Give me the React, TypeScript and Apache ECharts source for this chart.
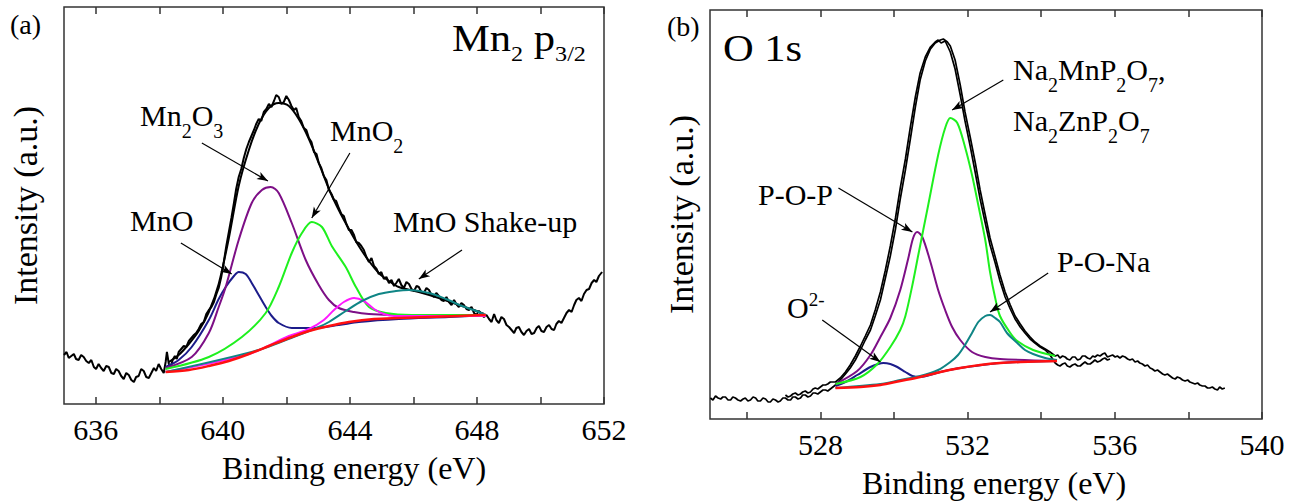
import React, { useEffect, useRef } from "react";
import * as echarts from "echarts";

// ---------- Panel (a): Mn 2p3/2 ----------
const mnTicks = [636, 638, 640, 642, 644, 646, 648, 650, 652];
const mnLabels = [636, 640, 644, 648, 652];

const mnRaw = [
  [635.0, 49], [635.08, 52], [635.15, 46], [635.23, 48], [635.31, 50], [635.38, 45], [635.46, 44], [635.54, 49],
  [635.62, 47], [635.7, 43], [635.78, 41], [635.86, 44], [635.94, 37], [636.01, 35], [636.09, 40], [636.17, 36],
  [636.25, 33], [636.33, 38], [636.41, 37], [636.49, 31], [636.57, 30], [636.64, 35], [636.72, 33], [636.8, 28],
  [636.88, 25], [636.96, 31], [637.04, 29], [637.12, 24], [637.2, 22], [637.27, 27], [637.35, 28], [637.43, 35],
  [637.51, 33], [637.59, 27], [637.67, 26], [637.75, 31], [637.83, 36], [637.9, 33], [637.98, 40], [638.06, 35],
  [638.14, 31], [638.2, 42], [638.24, 52], [638.3, 40], [638.36, 37], [638.42, 44], [638.49, 48], [638.55, 45],
  [638.61, 52], [638.69, 55], [638.77, 58], [638.85, 57], [638.93, 63], [639.01, 66], [639.09, 69], [639.16, 71],
  [639.24, 75], [639.32, 80], [639.4, 82], [639.48, 90], [639.56, 94], [639.64, 97], [639.72, 102], [639.8, 110],
  [639.87, 116], [639.95, 127], [640.03, 142], [640.11, 158], [640.19, 172], [640.27, 186], [640.35, 201], [640.42, 215],
  [640.5, 227], [640.58, 235], [640.66, 246], [640.74, 255], [640.82, 262], [640.9, 268], [640.98, 274], [641.05, 280],
  [641.13, 285], [641.21, 283], [641.29, 292], [641.37, 295], [641.45, 300], [641.53, 297], [641.61, 303], [641.68, 309],
  [641.76, 307], [641.84, 300], [641.92, 302], [642.0, 308], [642.08, 304], [642.16, 298], [642.24, 294], [642.31, 296],
  [642.39, 287], [642.47, 283], [642.55, 276], [642.63, 274], [642.71, 266], [642.79, 262], [642.87, 252], [642.95, 250],
  [643.02, 241], [643.1, 236], [643.18, 228], [643.26, 224], [643.34, 214], [643.42, 210], [643.5, 204], [643.57, 203],
  [643.65, 196], [643.73, 190], [643.81, 188], [643.89, 180], [643.97, 174], [644.05, 174], [644.13, 169], [644.2, 162],
  [644.28, 161], [644.36, 158], [644.44, 154], [644.52, 147], [644.6, 142], [644.68, 146], [644.76, 138], [644.84, 135],
  [644.91, 130], [644.99, 132], [645.07, 125], [645.15, 127], [645.23, 121], [645.31, 124], [645.39, 118], [645.46, 121],
  [645.54, 125], [645.62, 119], [645.7, 116], [645.78, 122], [645.86, 120], [645.94, 115], [646.02, 113], [646.1, 118],
  [646.17, 117], [646.25, 112], [646.33, 111], [646.41, 116], [646.49, 114], [646.57, 109], [646.65, 107], [646.72, 111],
  [646.8, 108], [646.88, 104], [646.96, 103], [647.04, 107], [647.12, 102], [647.2, 99], [647.28, 104], [647.35, 100],
  [647.43, 97], [647.51, 101], [647.59, 99], [647.67, 95], [647.75, 94], [647.83, 97], [647.91, 91], [647.98, 89],
  [648.06, 93], [648.14, 90], [648.22, 87], [648.3, 89], [648.38, 85], [648.46, 82], [648.54, 90], [648.61, 84],
  [648.69, 81], [648.77, 87], [648.85, 85], [648.93, 79], [649.01, 77], [649.09, 74], [649.17, 71], [649.24, 76],
  [649.32, 77], [649.4, 72], [649.48, 69], [649.56, 73], [649.64, 75], [649.72, 70], [649.8, 71], [649.88, 76],
  [649.95, 78], [650.03, 73], [650.11, 72], [650.19, 77], [650.27, 79], [650.35, 75], [650.43, 74], [650.5, 80],
  [650.58, 83], [650.66, 81], [650.74, 86], [650.82, 91], [650.9, 94], [650.98, 92], [651.06, 99], [651.13, 104],
  [651.21, 106], [651.29, 103], [651.37, 110], [651.45, 114], [651.53, 115], [651.61, 121], [651.69, 124], [651.76, 122],
  [651.84, 128], [651.94, 132],
];
const mnFit = [
  [638.3, 42], [638.61, 49], [638.93, 60], [639.24, 73], [639.56, 92], [639.87, 120], [640.19, 166], [640.5, 218],
  [640.82, 254], [641.13, 280], [641.45, 296], [641.76, 301], [642.08, 298], [642.39, 285], [642.71, 265], [643.02, 241],
  [643.34, 215], [643.65, 194], [643.97, 175], [644.28, 158], [644.6, 143], [644.91, 131], [645.23, 123], [645.54, 117],
  [646.17, 112], [646.8, 106], [647.43, 99], [647.91, 94], [648.22, 90],
];
const mnMnO = [
  [638.2, 37], [638.61, 44], [639.02, 57], [639.56, 84], [639.87, 105], [640.09, 117], [640.35, 128], [640.5, 132],
  [640.72, 130], [640.91, 121], [641.13, 109], [641.35, 97], [641.54, 88], [641.76, 81], [642.17, 76], [642.8, 76],
  [643.65, 79], [644.28, 82], [645.54, 85], [647.12, 87], [648.28, 89],
];
const mnMn2O3 = [
  [638.2, 36], [639.02, 47], [639.56, 71], [639.87, 97], [640.09, 117], [640.5, 164], [640.91, 201], [641.23, 214],
  [641.51, 217], [641.76, 211], [642.17, 181], [642.61, 144], [643.02, 119], [643.34, 104], [643.65, 96], [644.13, 92],
  [644.6, 90], [645.54, 89], [648.28, 89],
];
const mnMnO2 = [
  [638.2, 35], [639.56, 47], [640.6, 67], [641.35, 91], [641.76, 117], [642.17, 151], [642.49, 171], [642.8, 182],
  [643.12, 177], [643.43, 158], [643.87, 137], [644.19, 117], [644.6, 97], [645.13, 91], [645.95, 89], [648.28, 89],
];
const mnSat = [
  [638.2, 32], [640.82, 50], [642.08, 68], [642.71, 75], [643.18, 84], [643.5, 94], [643.81, 102], [644.13, 106],
  [644.44, 103], [644.76, 95], [645.07, 90], [645.39, 88], [648.28, 88],
];
const mnShake = [
  [638.2, 32], [641.13, 54], [642.39, 69], [643.02, 77], [643.34, 82], [643.87, 93], [644.38, 103], [644.91, 110],
  [645.45, 113], [645.86, 114], [646.49, 111], [647.02, 105], [647.53, 98], [648.06, 92], [648.28, 89],
];
const mnBg = [
  [638.2, 32], [638.93, 34], [639.56, 38], [640.19, 43], [640.82, 50], [641.45, 58], [642.08, 66], [642.71, 73],
  [643.34, 78], [643.97, 82], [644.76, 85], [645.54, 86], [646.49, 87], [647.43, 88], [648.28, 89],
];
const mnArrows = [
  [[639.34, 261], [641.42, 223]],
  [[638.68, 161], [640.28, 130]],
  [[644.0, 251], [642.8, 186]],
  [[647.53, 154], [646.17, 125]],
];

// ---------- Panel (b): O 1s ----------
const oTicks = [526, 528, 530, 532, 534, 536, 538, 540];
const oLabels = [528, 532, 536, 540];

const oRawA = [
  [525.01, 21], [525.08, 19], [525.15, 23], [525.22, 21], [525.29, 20], [525.35, 22], [525.42, 22], [525.49, 19],
  [525.56, 19], [525.62, 22], [525.69, 21], [525.76, 19], [525.83, 18], [525.9, 20], [525.96, 21], [526.03, 18],
  [526.1, 19], [526.17, 22], [526.24, 21], [526.3, 18], [526.37, 18], [526.44, 21], [526.51, 20], [526.58, 17],
  [526.64, 17], [526.71, 20], [526.78, 19], [526.85, 17], [526.91, 18], [526.98, 21], [527.05, 21], [527.12, 19],
  [527.19, 19], [527.25, 22], [527.32, 22], [527.39, 20], [527.46, 21], [527.52, 24], [527.59, 24], [527.66, 22],
  [527.73, 23], [527.8, 26], [527.86, 26], [527.93, 25], [528.0, 27], [528.07, 29], [528.14, 29], [528.2, 28],
  [528.27, 30], [528.41, 34], [528.54, 39], [528.68, 45], [528.81, 51], [528.95, 59], [529.09, 69], [529.22, 79],
  [529.36, 89], [529.49, 103], [529.63, 119], [529.76, 140], [529.9, 163], [530.04, 190], [530.17, 220], [530.31, 249],
  [530.44, 279], [530.58, 312], [530.71, 339], [530.85, 358], [530.99, 370], [531.12, 376], [531.26, 379], [531.34, 380],
  [531.45, 377], [531.53, 373], [531.66, 359], [531.8, 334], [531.93, 307], [532.07, 282], [532.21, 256], [532.34, 229],
  [532.48, 204], [532.61, 181], [532.75, 162], [532.88, 144], [533.02, 127], [533.16, 114], [533.29, 103], [533.43, 95],
  [533.56, 88], [533.7, 82], [533.83, 77], [533.97, 73], [534.11, 70], [534.24, 67], [534.38, 63], [534.45, 64],
  [534.51, 61], [534.58, 63], [534.65, 62], [534.71, 60], [534.78, 59], [534.85, 62], [534.92, 62], [534.99, 59],
  [535.06, 60], [535.12, 63], [535.19, 63], [535.26, 61], [535.33, 60], [535.4, 63], [535.46, 62], [535.53, 64],
  [535.6, 63], [535.67, 65], [535.73, 66], [535.8, 62], [535.87, 63], [535.94, 64], [536.01, 62], [536.07, 63],
  [536.14, 61], [536.21, 63], [536.28, 62], [536.35, 60], [536.41, 59], [536.48, 60], [536.55, 57], [536.62, 58],
  [536.68, 56], [536.75, 55], [536.82, 53], [536.89, 54], [536.96, 51], [537.02, 50], [537.09, 48], [537.16, 49],
  [537.23, 47], [537.3, 45], [537.36, 44], [537.43, 45], [537.5, 43], [537.57, 41], [537.64, 40], [537.7, 42],
  [537.77, 41], [537.84, 39], [537.91, 38], [537.98, 39], [538.04, 37], [538.11, 36], [538.18, 35], [538.25, 36],
  [538.31, 34], [538.38, 33], [538.45, 33], [538.52, 31], [538.58, 31], [538.65, 32], [538.72, 30], [538.79, 29],
  [538.85, 32], [538.92, 30], [538.99, 31],
];
const oRawB = [
  [527.05, 24], [527.12, 22], [527.19, 23], [527.25, 25], [527.32, 26], [527.39, 24], [527.46, 25], [527.52, 27],
  [527.59, 28], [527.66, 26], [527.73, 27], [527.8, 30], [527.86, 31], [527.93, 30], [528.0, 32], [528.07, 34],
  [528.14, 34], [528.2, 35], [528.27, 37], [528.41, 37], [528.54, 41], [528.68, 47], [528.81, 54], [528.95, 63],
  [529.09, 73], [529.22, 83], [529.36, 94], [529.49, 109], [529.63, 127], [529.76, 148], [529.9, 173], [530.04, 201],
  [530.17, 231], [530.31, 260], [530.44, 291], [530.58, 322], [530.71, 346], [530.85, 362], [530.99, 372], [531.12, 377],
  [531.2, 379], [531.28, 376], [531.39, 378], [531.53, 367], [531.66, 350], [531.8, 324], [531.93, 298], [532.07, 273],
  [532.21, 246], [532.34, 220], [532.48, 196], [532.61, 174], [532.75, 156], [532.88, 138], [533.02, 122], [533.16, 110],
  [533.29, 100], [533.43, 92], [533.56, 86], [533.7, 80], [533.83, 76], [533.97, 72], [534.11, 69], [534.24, 64],
  [534.38, 56], [534.45, 54], [534.51, 53], [534.58, 55], [534.65, 56], [534.71, 53], [534.78, 52], [534.85, 54],
  [534.92, 55], [534.99, 53], [535.06, 53], [535.12, 55], [535.19, 57], [535.26, 55], [535.33, 55], [535.4, 57],
  [535.46, 59], [535.53, 57], [535.6, 58], [535.67, 60], [535.73, 61], [535.8, 59], [535.87, 60],
];
const oO2 = [
  [528.41, 33], [528.68, 37], [529.0, 44], [529.36, 52], [529.57, 55], [529.71, 56], [529.9, 55], [530.09, 52],
  [530.31, 47], [530.5, 43], [530.71, 42], [531.26, 47], [531.8, 51], [532.88, 56], [534.43, 58],
];
const oPOP = [
  [528.41, 35], [529.0, 48], [529.36, 64], [529.63, 82], [529.9, 101], [530.17, 129], [530.39, 161], [530.52, 181],
  [530.63, 187], [530.77, 182], [530.99, 157], [531.2, 129], [531.39, 109], [531.58, 92], [531.8, 79], [532.12, 67],
  [532.48, 62], [532.88, 60], [534.43, 58],
];
const oNa = [
  [528.41, 35], [529.09, 42], [529.55, 55], [529.9, 72], [530.17, 89], [530.31, 103], [530.5, 134], [530.66, 164],
  [530.93, 214], [531.2, 264], [531.39, 291], [531.53, 301], [531.72, 296], [531.93, 272], [532.12, 244], [532.29, 214],
  [532.48, 179], [532.61, 147], [532.75, 121], [532.88, 103], [533.16, 86], [533.35, 78], [533.78, 69], [534.38, 63],
];
const oPONa = [
  [528.41, 31], [529.63, 35], [530.17, 39], [530.71, 43], [531.2, 49], [531.53, 57], [531.74, 64], [531.93, 74],
  [532.12, 86], [532.29, 97], [532.48, 103], [532.61, 104], [532.75, 101], [532.88, 97], [533.07, 86], [533.35, 76],
  [533.56, 69], [533.78, 65], [534.11, 61], [534.43, 59],
];
const oBg = [
  [528.41, 31], [529.09, 32], [529.63, 34], [530.17, 38], [530.71, 42], [531.26, 47], [531.8, 51], [532.34, 54],
  [532.88, 56], [533.43, 57], [534.43, 58],
];
const oArrows = [
  [[532.97, 339], [531.58, 309]],
  [[528.49, 231], [530.5, 187]],
  [[528.05, 99], [529.63, 57]],
  [[534.19, 146], [532.61, 107]],
];

const F = "'Liberation Serif', 'Times New Roman', serif";

const C = {
  black: "#000000",
  navy: "#1c1c8a",
  purple: "#7d0f86",
  green: "#1ef01e",
  magenta: "#ff19ff",
  teal: "#0f8585",
  red: "#ff1010",
};

function xAxesFor(gridIndex: number, min: number, max: number, ticks: number[], labels: number[], shift: number) {
  const tickStyle = { inside: true, length: 7, lineStyle: { color: "#333", width: 1.5 }, customValues: ticks };
  return [
    {
      type: "value", gridIndex, min, max, position: "bottom",
      axisLine: { show: false }, splitLine: { show: false },
      axisTick: { show: true, ...tickStyle },
      axisLabel: { customValues: labels, fontSize: 30, fontFamily: F, color: "#000", margin: 10, showMinLabel: true, showMaxLabel: true },
      name: "Binding energy (eV)", nameLocation: "middle", nameGap: 48,
      nameTextStyle: { fontSize: 32, fontFamily: F, color: "#000", padding: [0, 0, 0, shift] },
    },
    {
      type: "value", gridIndex, min, max, position: "top",
      axisLine: { show: false }, splitLine: { show: false },
      axisTick: { show: true, ...tickStyle },
      axisLabel: { show: false },
    },
  ];
}

function yAxisFor(gridIndex: number, max: number, gap: number) {
  return {
    type: "value", gridIndex, min: 0, max,
    axisLine: { show: false }, axisTick: { show: false }, axisLabel: { show: false }, splitLine: { show: false },
    name: "Intensity (a.u.)", nameLocation: "middle", nameGap: gap,
    nameTextStyle: { fontSize: 34, fontFamily: F, color: "#000" },
  };
}

function line(data: number[][], color: string, width: number, xi: number, yi: number, z: number, smooth: number | boolean, extra: any = {}) {
  return {
    type: "line", data, xAxisIndex: xi, yAxisIndex: yi, showSymbol: false, symbol: "none", silent: true,
    smooth, z, lineStyle: { color, width }, ...extra,
  };
}

function arrows(list: number[][][]) {
  return {
    silent: true, symbol: ["none", "arrow"], symbolSize: [6, 11],
    lineStyle: { color: "#000", width: 1.2, type: "solid" }, label: { show: false },
    data: list.map((a) => [{ coord: a[0] }, { coord: a[1] }]),
  };
}

const richAnn = {
  m: { fontSize: 30, fontFamily: F, fill: "#000", lineHeight: 41, verticalAlign: "top" },
  s: { fontSize: 20, fontFamily: F, fill: "#000", lineHeight: 41, verticalAlign: "bottom" },
  o: { fontSize: 30, fontFamily: F, fill: "#000", lineHeight: 32, verticalAlign: "bottom" },
  sup: { fontSize: 19, fontFamily: F, fill: "#000", lineHeight: 32, verticalAlign: "top" },
  t: { fontSize: 37, fontFamily: F, fill: "#000", lineHeight: 45, verticalAlign: "top" },
  ts: { fontSize: 21, fontFamily: F, fill: "#000", lineHeight: 45, verticalAlign: "bottom" },
  p: { fontSize: 28, fontFamily: F, fill: "#000", lineHeight: 28, verticalAlign: "top" },
};

function txt(x: number, y: number, text: string, scaleX = 1) {
  return {
    type: "text", x, y, scaleX, silent: true, z: 100,
    style: { text, rich: richAnn, fill: "#000", fontFamily: F, align: "left", verticalAlign: "top" },
  };
}

export default function App() {
  const ref = useRef<HTMLDivElement>(null);
  useEffect(() => {
    if (!ref.current) return;
    const chart = echarts.init(ref.current, null, { renderer: "svg", width: 1298, height: 504 });
    const option: any = {
      animation: false,
      backgroundColor: "#ffffff",
      grid: [
        { left: 64, top: 7, width: 540, height: 397, show: true, borderColor: "#333", borderWidth: 1.5, backgroundColor: "transparent" },
        { left: 710, top: 10, width: 552, height: 409, show: true, borderColor: "#333", borderWidth: 1.5, backgroundColor: "transparent" },
      ],
      xAxis: [
        ...xAxesFor(0, 635, 652, mnTicks, mnLabels, 40),
        ...xAxesFor(1, 525, 540, oTicks, oLabels, 16),
      ],
      yAxis: [yAxisFor(0, 397, 22), yAxisFor(1, 409, 12)],
      series: [
        line(mnRaw, C.black, 2, 0, 0, 2, false),
        line(mnFit, C.black, 2, 0, 0, 3, 0.3),
        line(mnMnO, C.navy, 2, 0, 0, 4, 0.3),
        line(mnMn2O3, C.purple, 2, 0, 0, 4, 0.3),
        line(mnMnO2, C.green, 2, 0, 0, 4, 0.3),
        line(mnSat, C.magenta, 2, 0, 0, 4, 0.3),
        line(mnShake, C.teal, 2, 0, 0, 4, 0.3),
        line(mnBg, C.red, 2.5, 0, 0, 5, 0.3, { markLine: arrows(mnArrows) }),

        line(oRawA, C.black, 1.7, 2, 1, 2, false),
        line(oRawB, C.black, 1.7, 2, 1, 2, false),
        line(oO2, C.navy, 2, 2, 1, 4, 0.3),
        line(oPOP, C.purple, 2, 2, 1, 4, 0.3),
        line(oNa, C.green, 2, 2, 1, 4, 0.3),
        line(oPONa, C.teal, 2, 2, 1, 4, 0.3),
        line(oBg, C.red, 2.5, 2, 1, 5, 0.3, { markLine: arrows(oArrows) }),
      ],
      graphic: [
        txt(10, 10, "{p|(a)}"),
        txt(452, 20, "{t|Mn}{ts|2}{t| p}{ts|3/2}", 1.15),
        txt(140, 100, "{m|Mn}{s|2}{m|O}{s|3}"),
        txt(130, 205, "{m|MnO}"),
        txt(330, 115, "{m|MnO}{s|2}"),
        txt(393, 206, "{m|MnO Shake-up}"),

        txt(667, 12, "{p|(b)}"),
        txt(723, 30, "{t|O 1s}", 1.15),
        txt(1013, 54, "{m|Na}{s|2}{m|MnP}{s|2}{m|O}{s|7}{m|,}"),
        txt(1013, 105, "{m|Na}{s|2}{m|ZnP}{s|2}{m|O}{s|7}"),
        txt(758, 179, "{m|P-O-P}"),
        txt(787, 290, "{o|O}{sup|2-}"),
        txt(1057, 246, "{m|P-O-Na}"),
      ],
    };
    chart.setOption(option);
    return () => chart.dispose();
  }, []);
  return <div ref={ref} style={{ position: "absolute", left: 0, top: 0, width: 1298, height: 504, background: "#fff" }} />;
}
